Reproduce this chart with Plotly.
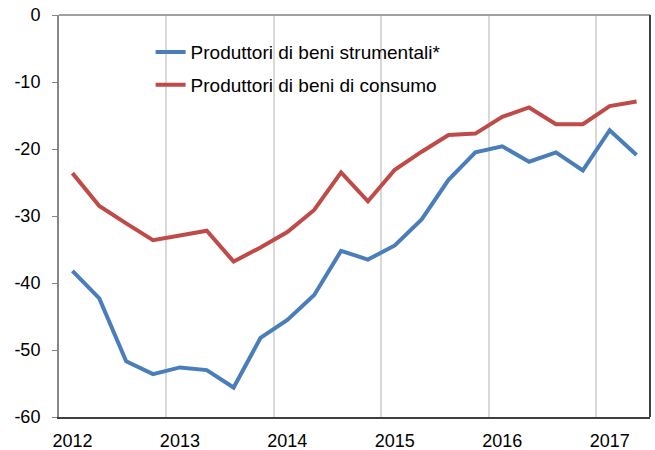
import plotly.graph_objects as go

quarters = [2012 + y + (q + 0.5) / 4 for y in range(6) for q in range(4)][:22]
strumentali = [-38.2, -42.3, -51.7, -53.6, -52.6, -53.0, -55.6, -48.2,
               -45.5, -41.8, -35.2, -36.5, -34.4, -30.5, -24.6, -20.5,
               -19.6, -21.9, -20.5, -23.2, -17.2, -20.9]
consumo = [-23.6, -28.5, -31.1, -33.6, -32.9, -32.2, -36.8, -34.7,
           -32.4, -29.1, -23.5, -27.8, -23.1, -20.4, -17.9, -17.7,
           -15.2, -13.8, -16.3, -16.3, -13.6, -12.9]
years = [2012, 2013, 2014, 2015, 2016, 2017]
year_labels = [str(y) for y in years]
y_ticks = [0, -10, -20, -30, -40, -50, -60]
y_labels = ["0", "-10", "-20", "-30", "-40", "-50", "-60"]

fig = go.Figure()
fig.add_trace(go.Scatter(x=quarters, y=strumentali, mode="lines",
                         name="Produttori di beni strumentali*",
                         line=dict(color="#4A7EBB", width=4), legendgroup="a"))
fig.add_trace(go.Scatter(x=quarters, y=consumo, mode="lines",
                         name="Produttori di beni di consumo",
                         line=dict(color="#BE4B48", width=4), legendgroup="b"))

fig.update_layout(
    width=655, height=450,
    margin=dict(l=59, r=5, t=15, b=33, autoexpand=False),
    paper_bgcolor="white", plot_bgcolor="white",
    font=dict(family="Liberation Sans, Arial, sans-serif", size=18, color="black"),
    showlegend=True,
    legend=dict(x=0.155, y=0.955, xanchor="left", yanchor="top",
                bgcolor="rgba(0,0,0,0)", tracegroupgap=5,
                font=dict(size=19)),
    xaxis=dict(range=[2012, 2017.5], tickvals=[y + 0.125 for y in years],
               ticktext=year_labels, showgrid=False, zeroline=False,
               showline=True, linecolor="#404040", linewidth=2, ticks="",
               ticklabelstandoff=6, automargin=False, ticklabeloverflow="allow",
               minor=dict(tick0=2012, dtick=1, showgrid=True,
                          gridcolor="#D9D9D9", gridwidth=1.5, ticks="")),
    yaxis=dict(range=[-60, 0], tickvals=y_ticks, ticktext=y_labels,
               showgrid=False, zeroline=False,
               showline=True, linecolor="#868686", linewidth=2,
               ticks="outside", ticklen=5, tickcolor="#868686",
               ticklabelstandoff=8, automargin=False, ticklabeloverflow="allow"),
    shapes=[
        dict(type="line", xref="x domain", yref="y domain", x0=0, x1=1, y0=1, y1=1,
             line=dict(color="#A0A0A0", width=2)),
        dict(type="line", xref="x domain", yref="y domain", x0=1, x1=1, y0=0, y1=1,
             line=dict(color="#404040", width=2)),
    ],
)

fig.write_html("out.html",
               config={"displayModeBar": False},
               post_script="document.body.style.margin='0';document.body.style.overflow='hidden';")
